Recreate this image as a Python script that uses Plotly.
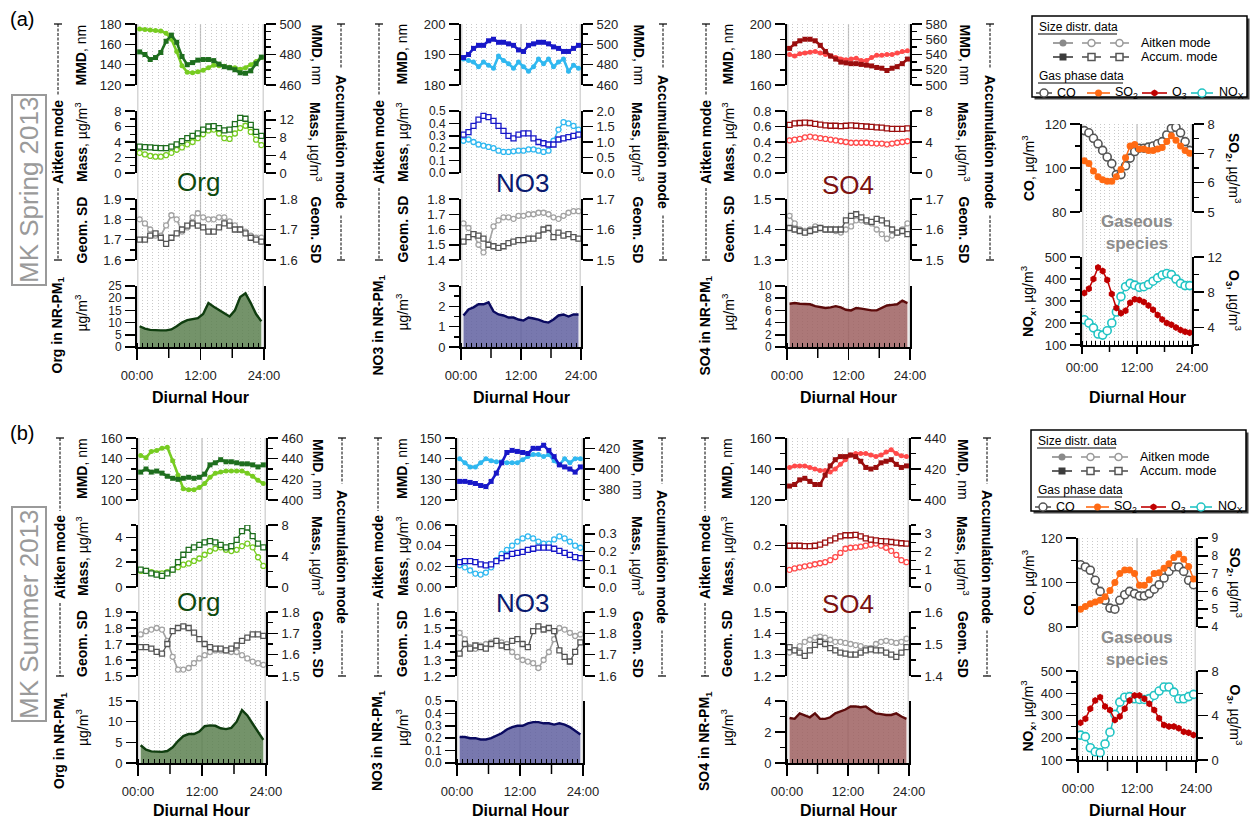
import plotly.graph_objects as go

W, H = 1252, 819
FONT = "Arial, Liberation Sans, sans-serif"

HOURS = [h + 0.5 for h in range(24)]
XTICK_VALS = [0, 12, 24]
XTICK_TEXT = ["00:00", "12:00", "24:00"]
XTICK_LONG_UNLABELLED = [6, 18]

# ------------------------- (a) MK Spring 2013 -------------------------
spr_org_mmd_ait = [175, 174.5, 174, 173.5, 173, 171, 165, 153, 139, 132.5, 132, 133, 134.5, 137, 139.5, 139, 138.5, 137.5, 137, 135.5, 137, 140, 143, 147]
spr_org_mmd_acc = [481.7, 480, 476.7, 478, 481.3, 488.7, 492.7, 488, 478.7, 473.3, 474.7, 476.3, 476.7, 476.7, 476, 473.7, 472, 471.3, 470, 468, 467.7, 469.3, 474, 478.3]
spr_org_mass_ait = [2.6, 2.4, 2.2, 2.1, 2.1, 2.3, 2.6, 3.0, 3.3, 3.7, 4.0, 4.5, 5.0, 5.5, 5.6, 5.1, 4.5, 4.4, 5.1, 5.8, 6.1, 5.3, 4.3, 3.6]
spr_org_mass_acc = [5.95, 5.86, 5.78, 5.69, 5.6, 5.6, 5.95, 6.48, 7.18, 7.88, 8.4, 8.93, 9.8, 10.5, 10.59, 10.15, 9.63, 9.8, 11.03, 12.43, 12.25, 10.85, 9.28, 8.4]
spr_org_sd_ait = [1.80, 1.78, 1.75, 1.72, 1.72, 1.77, 1.82, 1.80, 1.74, 1.76, 1.81, 1.83, 1.81, 1.80, 1.80, 1.81, 1.81, 1.79, 1.77, 1.75, 1.74, 1.72, 1.71, 1.71]
spr_org_sd_acc = [1.667, 1.667, 1.68, 1.687, 1.673, 1.653, 1.673, 1.687, 1.70, 1.713, 1.72, 1.713, 1.707, 1.693, 1.693, 1.707, 1.72, 1.713, 1.70, 1.70, 1.687, 1.673, 1.667, 1.66]
spr_org_pm = [8.5, 7.5, 7.0, 6.8, 6.8, 6.8, 7.2, 8.5, 10.0, 11.0, 11.5, 11.8, 13.5, 18.0, 16.5, 15.0, 13.8, 12.5, 15.0, 20.5, 22.0, 18.0, 13.5, 10.5]

spr_no3_mmd_ait = [188.5, 188, 187.5, 186, 187.5, 186.5, 185.5, 189.5, 188, 187, 185.5, 187.5, 186, 184.5, 186, 188.5, 187, 188.5, 186, 187.5, 188.5, 184.5, 186.5, 185.5]
spr_no3_mmd_acc = [487, 490, 496, 499, 499, 503.5, 505, 502, 502, 500.5, 499, 494.5, 493, 499, 500.5, 502, 502, 500.5, 497.5, 496, 493, 493, 496, 499]
spr_no3_mass_ait = [0.26, 0.27, 0.25, 0.23, 0.22, 0.21, 0.20, 0.18, 0.17, 0.17, 0.175, 0.18, 0.18, 0.19, 0.19, 0.18, 0.17, 0.18, 0.26, 0.35, 0.41, 0.40, 0.38, 0.35]
spr_no3_mass_acc = [1.24, 1.32, 1.52, 1.72, 1.84, 1.80, 1.68, 1.52, 1.36, 1.20, 1.12, 1.24, 1.28, 1.28, 1.12, 1.00, 0.96, 0.92, 0.92, 1.08, 1.12, 1.16, 1.20, 1.24]
spr_no3_sd_ait = [1.64, 1.61, 1.57, 1.50, 1.45, 1.50, 1.62, 1.66, 1.68, 1.68, 1.67, 1.69, 1.69, 1.70, 1.70, 1.71, 1.71, 1.70, 1.68, 1.67, 1.69, 1.71, 1.72, 1.72]
spr_no3_sd_acc = [1.56, 1.575, 1.585, 1.58, 1.57, 1.55, 1.545, 1.54, 1.545, 1.555, 1.56, 1.565, 1.565, 1.57, 1.57, 1.58, 1.60, 1.605, 1.575, 1.59, 1.58, 1.585, 1.575, 1.57]
spr_no3_pm = [1.55, 1.85, 1.95, 2.1, 2.1, 2.2, 1.75, 1.6, 1.55, 1.45, 1.45, 1.35, 1.3, 1.45, 1.4, 1.35, 1.25, 1.2, 1.35, 1.55, 1.6, 1.5, 1.6, 1.6]

spr_so4_mmd_ait = [180, 179, 180.5, 181, 181.5, 182, 181, 180, 179, 178, 177, 176.5, 177, 177.5, 176, 176, 178, 179.5, 179.5, 180, 180, 181, 182, 182.5]
spr_so4_mmd_acc = [548, 554, 558, 560, 560, 558, 552, 544, 538, 534, 530, 529, 528, 528, 527, 526, 525, 523, 522, 519, 522, 524, 528, 534]
spr_so4_mass_ait = [0.42, 0.43, 0.44, 0.46, 0.47, 0.46, 0.45, 0.44, 0.43, 0.42, 0.41, 0.40, 0.39, 0.39, 0.39, 0.39, 0.385, 0.38, 0.38, 0.37, 0.38, 0.39, 0.40, 0.41]
spr_so4_mass_acc = [6.2, 6.4, 6.45, 6.5, 6.45, 6.35, 6.25, 6.15, 6.1, 6.1, 6.05, 6.1, 6.15, 6.1, 6.05, 6.0, 5.95, 5.9, 5.85, 5.75, 5.7, 5.7, 5.7, 5.75]
spr_so4_sd_ait = [1.445, 1.42, 1.40, 1.395, 1.40, 1.41, 1.405, 1.40, 1.40, 1.395, 1.39, 1.40, 1.41, 1.43, 1.43, 1.425, 1.42, 1.40, 1.385, 1.37, 1.38, 1.39, 1.40, 1.42]
spr_so4_sd_acc = [1.605, 1.60, 1.595, 1.59, 1.595, 1.60, 1.605, 1.60, 1.60, 1.60, 1.60, 1.63, 1.645, 1.65, 1.64, 1.63, 1.625, 1.635, 1.63, 1.62, 1.60, 1.59, 1.595, 1.585]
spr_so4_pm = [7.1, 7.2, 7.1, 7.0, 7.0, 6.7, 6.5, 6.4, 6.5, 6.7, 6.5, 6.1, 6.0, 6.4, 6.3, 6.1, 6.0, 6.0, 6.4, 6.8, 6.9, 7.0, 7.6, 7.2]

spr_co = [117, 116, 113.5, 111, 108, 105, 102, 97, 97, 101, 104.5, 107.5, 109, 109, 109.5, 110, 111, 112, 115, 118, 118.5, 116, 112, 108]
spr_so2 = [6.75, 6.65, 6.4, 6.2, 6.1, 6.05, 6.05, 6.2, 6.45, 6.85, 7.25, 7.3, 7.15, 7.15, 7.1, 7.1, 7.15, 7.2, 7.4, 7.6, 7.45, 7.25, 7.1, 7.0]
spr_nox = [215, 200, 178, 150, 145, 165, 200, 250, 320, 365, 380, 372, 362, 365, 375, 390, 405, 418, 425, 420, 400, 380, 370, 370]
spr_o3 = [7.9, 8.4, 9.5, 10.8, 10.4, 9.4, 7.8, 6.2, 5.6, 5.9, 6.8, 7.2, 7.1, 6.9, 6.5, 6.0, 5.4, 4.9, 4.5, 4.3, 4.0, 3.7, 3.5, 3.4]

# ------------------------- (b) MK Summer 2013 -------------------------
sum_org_mmd_ait = [143, 141, 147, 148, 150, 151, 138, 124, 111, 110, 110, 112, 116, 122, 126, 127, 128, 128, 128, 128, 126, 123, 119, 116]
sum_org_mmd_acc = [427, 430, 427, 428, 426, 423, 421, 420, 421, 422, 421, 422, 425, 434, 436, 439, 437, 437, 436, 435, 435, 434, 432, 434]
sum_org_mass_ait = [1.3, 1.3, 1.2, 1.1, 1.1, 1.2, 1.4, 1.6, 1.8, 1.9, 2.1, 2.3, 2.6, 2.9, 3.1, 3.2, 3.0, 2.9, 3.0, 3.3, 3.5, 3.2, 2.4, 1.7]
sum_org_mass_acc = [2.24, 2.08, 1.76, 1.6, 1.44, 1.76, 2.24, 3.2, 4.16, 4.8, 5.12, 5.44, 5.76, 5.92, 5.76, 5.44, 5.12, 5.28, 6.08, 7.2, 7.68, 6.56, 5.6, 5.12]
sum_org_sd_ait = [1.76, 1.78, 1.79, 1.80, 1.79, 1.72, 1.62, 1.54, 1.54, 1.55, 1.58, 1.61, 1.63, 1.65, 1.66, 1.66, 1.66, 1.65, 1.65, 1.63, 1.61, 1.59, 1.58, 1.57]
sum_org_sd_acc = [1.635, 1.635, 1.628, 1.613, 1.605, 1.65, 1.71, 1.725, 1.733, 1.725, 1.703, 1.673, 1.65, 1.635, 1.628, 1.628, 1.62, 1.628, 1.643, 1.665, 1.68, 1.695, 1.695, 1.688]
sum_org_pm = [4.3, 3.2, 2.8, 2.7, 2.7, 2.9, 3.8, 5.3, 6.5, 7.0, 7.0, 7.6, 8.9, 9.1, 9.0, 8.4, 8.2, 8.5, 10.0, 12.8, 11.5, 9.5, 7.5, 5.6]

sum_no3_mmd_ait = [140, 138, 136, 136, 138, 140, 139, 138.5, 138.5, 138, 138, 138, 139.5, 141, 142, 142, 141, 142, 139, 137, 140, 138, 140, 140]
sum_no3_mmd_acc = [388, 388, 387, 386, 384, 383, 388, 396, 406, 416, 418, 417, 416, 415, 420, 420, 423, 418, 412, 404, 402, 400, 397, 402]
sum_no3_mass_ait = [0.021, 0.019, 0.016, 0.013, 0.012, 0.014, 0.019, 0.026, 0.032, 0.036, 0.040, 0.044, 0.047, 0.049, 0.047, 0.044, 0.042, 0.042, 0.046, 0.049, 0.047, 0.044, 0.040, 0.038]
sum_no3_mass_acc = [0.14, 0.146, 0.146, 0.14, 0.128, 0.1225, 0.128, 0.146, 0.163, 0.175, 0.187, 0.1925, 0.198, 0.21, 0.216, 0.222, 0.222, 0.222, 0.216, 0.204, 0.1925, 0.181, 0.169, 0.163]
sum_no3_sd_ait = [1.47, 1.43, 1.38, 1.37, 1.39, 1.40, 1.41, 1.42, 1.41, 1.40, 1.35, 1.32, 1.30, 1.29, 1.28, 1.25, 1.30, 1.35, 1.43, 1.50, 1.49, 1.47, 1.45, 1.46]
sum_no3_sd_acc = [1.705, 1.75, 1.728, 1.743, 1.735, 1.728, 1.75, 1.765, 1.743, 1.735, 1.765, 1.773, 1.75, 1.735, 1.81, 1.833, 1.818, 1.825, 1.81, 1.72, 1.69, 1.668, 1.713, 1.758]
sum_no3_pm = [0.21, 0.21, 0.20, 0.20, 0.19, 0.19, 0.20, 0.22, 0.24, 0.27, 0.29, 0.30, 0.30, 0.32, 0.33, 0.33, 0.32, 0.32, 0.31, 0.32, 0.31, 0.29, 0.26, 0.23]

sum_so4_mmd_ait = [141, 142, 142, 142, 141, 140, 139, 139, 138, 140, 143, 146, 149, 150, 150, 150, 149, 148, 149, 151, 152.5, 150, 148.5, 148]
sum_so4_mmd_acc = [409, 410, 413, 414, 412, 410, 410, 416, 422, 426, 428, 428, 429, 428, 425, 421, 420, 421, 424, 425, 426, 423, 421, 422]
sum_so4_mass_ait = [0.083, 0.090, 0.095, 0.100, 0.105, 0.110, 0.115, 0.120, 0.130, 0.145, 0.165, 0.185, 0.190, 0.192, 0.195, 0.200, 0.205, 0.210, 0.200, 0.190, 0.175, 0.155, 0.130, 0.120]
sum_so4_mass_acc = [2.33, 2.33, 2.33, 2.31, 2.31, 2.33, 2.39, 2.51, 2.63, 2.74, 2.86, 2.92, 2.92, 2.94, 2.86, 2.74, 2.68, 2.63, 2.59, 2.57, 2.54, 2.51, 2.47, 2.45]
sum_so4_sd_ait = [1.31, 1.32, 1.34, 1.36, 1.37, 1.38, 1.385, 1.38, 1.37, 1.36, 1.36, 1.355, 1.35, 1.345, 1.34, 1.33, 1.33, 1.35, 1.36, 1.365, 1.36, 1.355, 1.36, 1.375]
sum_so4_sd_acc = [1.49, 1.48, 1.473, 1.463, 1.48, 1.497, 1.507, 1.50, 1.487, 1.48, 1.473, 1.47, 1.467, 1.467, 1.473, 1.48, 1.483, 1.48, 1.48, 1.473, 1.467, 1.46, 1.473, 1.49]
sum_so4_pm = [2.9, 2.85, 3.2, 3.05, 2.95, 3.2, 2.85, 2.85, 2.95, 3.2, 3.3, 3.45, 3.65, 3.65, 3.6, 3.65, 3.4, 3.2, 3.15, 3.1, 3.1, 3.2, 3.0, 2.85]

sum_co = [108, 107, 105.5, 101, 96, 92, 88.5, 88, 92, 94.5, 96, 95, 94, 94, 95, 97, 99, 102, 105, 107, 107, 105, 101, 99]
sum_so2 = [5.0, 5.15, 5.3, 5.4, 5.5, 5.7, 6.05, 6.5, 7.0, 7.2, 7.2, 7.0, 6.35, 6.35, 6.65, 7.0, 7.05, 7.3, 7.55, 7.9, 8.1, 7.8, 7.4, 6.7]
sum_nox = [212, 205, 155, 137, 133, 172, 225, 305, 360, 382, 385, 375, 372, 372, 376, 390, 410, 428, 428, 405, 375, 375, 385, 395]
sum_o3 = [3.35, 3.7, 4.6, 5.35, 5.65, 4.8, 4.5, 3.6, 3.9, 4.6, 5.35, 5.8, 5.8, 5.5, 5.05, 4.5, 3.75, 3.15, 3.0, 3.0, 2.85, 2.55, 2.45, 2.25]

# ----------------------------------------------------------------------
fig = go.Figure()
L = {}
ann = []
shp = []
cnt = {"x": 0, "y": 0}


def alloc(kind):
    cnt[kind] += 1
    n = cnt[kind]
    name = kind if n == 1 else f"{kind}{n}"
    key = f"{kind}axis" if n == 1 else f"{kind}axis{n}"
    return name, key


def fx(px):
    return px / W


def fy(py):
    return 1 - py / H


def text(px, py, s, size=13, color="black", angle=0, xanchor="center", yanchor="middle", **kw):
    ann.append(dict(x=fx(px), y=fy(py), xref="paper", yref="paper", text=s, showarrow=False,
                    textangle=angle, xanchor=xanchor, yanchor=yanchor,
                    font=dict(family=FONT, size=size, color=color), **kw))


def pline(x0, y0, x1, y1, color="black", width=1.5, dash=None, layer="above"):
    d = dict(type="line", xref="paper", yref="paper", x0=fx(x0), y0=fy(y0), x1=fx(x1), y1=fy(y1),
             line=dict(color=color, width=width), layer=layer)
    if dash:
        d["line"]["dash"] = dash
    shp.append(d)


def yaxis(xname, rng, dtick, minor=None, fmt=None, side="left", top=None, bottom=None,
          overlay=None, mirror=False):
    name, key = alloc("y")
    span = rng[1] - rng[0]
    nlab = int(round(span / dtick)) + 1
    d = dict(range=[rng[0] - span * 1e-6, rng[1] + span * 1e-6], anchor=xname, side=side,
             showline=True, linecolor="black", linewidth=2, mirror=mirror,
             ticks="outside", ticklen=10, tickwidth=1.5, tickcolor="black",
             tickmode="linear", tick0=0, dtick=dtick, ticklabelstandoff=1,
             showgrid=False, zeroline=False, fixedrange=True, automargin=False,
             tickfont=dict(family=FONT, size=12 if nlab > 5 else 13, color="#222"))
    if fmt:
        d["tickformat"] = fmt
    if minor:
        d["minor"] = dict(tickmode="linear", tick0=0, dtick=minor, ticks="outside", ticklen=5,
                          tickwidth=1.5, tickcolor="black", showgrid=False)
    if overlay:
        d["overlaying"] = overlay
    else:
        d["domain"] = [fy(bottom), fy(top)]
    L[key] = d
    return name


def grid_backdrop(xl, xr, top, bottom):
    """Hourly dotted grid spanning the whole column (own hidden axes)."""
    gx, gxk = alloc("x")
    gy, gyk = alloc("y")
    L[gxk] = dict(domain=[fx(xl), fx(xr)], range=[0, 24], anchor=gy, showline=False, ticks="",
                  showticklabels=False, tickmode="linear", tick0=0, dtick=1, showgrid=True,
                  gridcolor="#c9c9c9", griddash="1px,2px", gridwidth=1, zeroline=False,
                  fixedrange=True, automargin=False)
    L[gyk] = dict(domain=[fy(bottom), fy(top)], range=[0, 1], anchor=gx, visible=False,
                  fixedrange=True, automargin=False)
    fig.add_trace(go.Scatter(x=[0.5], y=[0.5], xaxis=gx, yaxis=gy, mode="markers",
                             marker=dict(opacity=0), hoverinfo="skip", showlegend=False))


def xaxis_cfg(key, xname, xl, xr, anchor, axis_y, ticklen=11, standoff=4):
    L[key] = dict(domain=[fx(xl), fx(xr)], range=[0, 24], anchor=anchor,
                  showline=True, linecolor="black", linewidth=2,
                  tickmode="array", tickvals=XTICK_VALS, ticktext=XTICK_TEXT,
                  ticks="outside", ticklen=ticklen, tickwidth=1.5, tickcolor="black",
                  ticklabelstandoff=standoff,
                  minor=dict(tickmode="linear", tick0=0, dtick=1, ticks="inside", ticklen=4,
                             tickwidth=1, tickcolor="black", showgrid=False),
                  showgrid=False, zeroline=False, fixedrange=True, automargin=False,
                  tickfont=dict(family=FONT, size=13, color="#222"))
    # long unlabelled ticks at 06:00 and 18:00
    for xv in XTICK_LONG_UNLABELLED:
        shp.append(dict(type="line", xref=xname, yref="paper", x0=xv, x1=xv,
                        y0=fy(axis_y), y1=fy(axis_y + ticklen),
                        line=dict(color="black", width=1.5), layer="above"))


def vlines(xname, top, bottom):
    for xv, col, wd in [(0, "#d6d6d6", 3), (24, "#d6d6d6", 3), (12, "#bcbcbc", 1.2)]:
        shp.append(dict(type="line", xref=xname, yref="paper", x0=xv, x1=xv, y0=fy(bottom), y1=fy(top),
                        line=dict(color=col, width=wd), layer="below"))


def series(xname, yname, y, color, symbol, size, lw, filled=True):
    if filled:
        mk = dict(symbol=symbol, size=size, color=color, line=dict(color=color, width=0))
    else:
        mk = dict(symbol=symbol, size=size, color="white", line=dict(color=color, width=1.3))
    fig.add_trace(go.Scatter(x=HOURS, y=y, xaxis=xname, yaxis=yname, mode="lines+markers",
                             line=dict(color=color, width=lw), marker=mk,
                             hoverinfo="skip", showlegend=False))


def mode_label(px, top, bottom, label, length, angle):
    mid = (top + bottom) / 2
    text(px, mid, f"<b>{label}</b>", size=14, angle=angle)
    gap = length / 2 + 5
    pline(px, top, px, mid - gap, width=1, dash="3px,1.5px")
    pline(px, mid + gap, px, bottom, width=1, dash="3px,1.5px")
    pline(px - 4, top, px + 4, top, width=1.2)
    pline(px - 4, bottom, px + 4, bottom, width=1.2)


SD_AIT = "#a3a3a3"
SD_ACC = "#555555"


def species_panel(xl, xr, rows, pos, cols, data, axes, label, dh_y):
    (mt, mb), (at, ab), (st, sb), (pt, pb) = rows
    grid_backdrop(xl, xr, mt, pb)
    xname, xkey = alloc("x")
    vlines(xname, mt, pb)
    y1 = yaxis(xname, *axes["mmdL"], top=mt, bottom=mb)
    y1r = yaxis(xname, *axes["mmdR"], side="right", overlay=y1)
    y2 = yaxis(xname, *axes["massL"], top=at, bottom=ab)
    y2r = yaxis(xname, *axes["massR"], side="right", overlay=y2)
    y3 = yaxis(xname, *axes["sdL"], top=st, bottom=sb)
    y3r = yaxis(xname, *axes["sdR"], side="right", overlay=y3)
    y4 = yaxis(xname, *axes["pm"], top=pt, bottom=pb, mirror=True)
    xaxis_cfg(xkey, xname, xl, xr, y4, pb)

    light, dark, fillc, pmline, labc = cols
    series(xname, y1, data["mmd_ait"], light, "circle", 5, 2.6)
    series(xname, y1r, data["mmd_acc"], dark, "square", 5, 2.6)
    series(xname, y2, data["mass_ait"], light, "circle", 5, 1.3, filled=False)
    series(xname, y2r, data["mass_acc"], dark, "square", 5, 1.3, filled=False)
    series(xname, y3, data["sd_ait"], SD_AIT, "circle", 5, 1.6, filled=False)
    series(xname, y3r, data["sd_acc"], SD_ACC, "square", 5, 1.3, filled=False)
    fig.add_trace(go.Scatter(x=HOURS, y=data["pm"], xaxis=xname, yaxis=y4, mode="lines",
                             fill="tozeroy", fillcolor=fillc, line=dict(color=pmline, width=2.4),
                             hoverinfo="skip", showlegend=False))

    lm, lt, rt, rm, lbx, lby = pos
    mode_label(lm, mt, sb, "Aitken mode", 82, -90)
    mode_label(rm, mt, sb, "Accumulation mode", 137, 90)
    text(lt, (mt + mb) / 2, "<b>MMD</b>, nm", size=14, angle=-90)
    text(lt, (at + ab) / 2, "<b>Mass</b>, µg/m<sup>3</sup>", size=14, angle=-90)
    text(lt, (st + sb) / 2, "<b>Geom. SD</b>", size=14, angle=-90)
    text(rt, (mt + mb) / 2, "<b>MMD</b>, nm", size=14, angle=90)
    text(rt, (at + ab) / 2, "<b>Mass</b>, µg/m<sup>3</sup>", size=14, angle=90)
    text(rt, (st + sb) / 2, "<b>Geom. SD</b>", size=14, angle=90)
    text(lm, (pt + pb) / 2 + 9, f"<b>{label} in NR-PM<sub>1</sub></b>", size=14, angle=-90)
    text(lt, (pt + pb) / 2 - 4, "µg/m<sup>3</sup>", size=14, angle=-90)
    text(lbx, lby, label, size=26, color=labc)
    text((xl + xr) / 2, dh_y, "<b>Diurnal Hour</b>", size=16)


def gas_panel(xl, xr, co_rows, nox_rows, axes, data, lt, rt, gs_y, xt_len, xt_off, dh_y):
    (ct, cb), (nt, nb) = co_rows, nox_rows
    grid_backdrop(xl, xr, ct, nb)
    xname, xkey = alloc("x")
    vlines(xname, ct, nb)
    y1 = yaxis(xname, *axes["co"], top=ct, bottom=cb)
    y1r = yaxis(xname, *axes["so2"], side="right", overlay=y1)
    y2 = yaxis(xname, *axes["nox"], top=nt, bottom=nb)
    y2r = yaxis(xname, *axes["o3"], side="right", overlay=y2)
    xaxis_cfg(xkey, xname, xl, xr, y2, nb, ticklen=xt_len, standoff=xt_off)
    fig.add_trace(go.Scatter(x=HOURS, y=data["so2"], xaxis=xname, yaxis=y1r, mode="lines+markers",
                             line=dict(color="#ff6a13", width=1.5),
                             marker=dict(symbol="circle", size=7, color="#ff6a13"),
                             hoverinfo="skip", showlegend=False))
    fig.add_trace(go.Scatter(x=HOURS, y=data["co"], xaxis=xname, yaxis=y1, mode="lines+markers",
                             line=dict(color="#555555", width=1.5),
                             marker=dict(symbol="circle", size=8, color="white", line=dict(color="#555555", width=1.6)),
                             hoverinfo="skip", showlegend=False))
    fig.add_trace(go.Scatter(x=HOURS, y=data["o3"], xaxis=xname, yaxis=y2r, mode="lines+markers",
                             line=dict(color="#c00000", width=1.5),
                             marker=dict(symbol="hexagon", size=7, color="#c00000"),
                             hoverinfo="skip", showlegend=False))
    fig.add_trace(go.Scatter(x=HOURS, y=data["nox"], xaxis=xname, yaxis=y2, mode="lines+markers",
                             line=dict(color="#22c4c4", width=1.5),
                             marker=dict(symbol="circle", size=8, color="white", line=dict(color="#22c4c4", width=1.6)),
                             hoverinfo="skip", showlegend=False))
    text(lt, (ct + cb) / 2, "<b>CO</b>, µg/m<sup>3</sup>", size=14, angle=-90)
    text(rt, (ct + cb) / 2, "<b>SO<sub>2</sub></b>, µg/m<sup>3</sup>", size=14, angle=90)
    text(lt, (nt + nb) / 2, "<b>NO<sub>x</sub></b>, µg/m<sup>3</sup>", size=14, angle=-90)
    text(rt, (nt + nb) / 2, "<b>O<sub>3</sub></b>, µg/m<sup>3</sup>", size=14, angle=90)
    text((xl + xr) / 2, gs_y, "<b>Gaseous<br>species</b>", size=17, color="#8c8c8c")
    text((xl + xr) / 2, dh_y, "<b>Diurnal Hour</b>", size=16)


ORG = ("#77cc22", "#1e6e1e", "rgba(92,128,80,0.85)", "#0f3d0f", "#0e4a0e")
NO3 = ("#30b8f0", "#1818c8", "rgba(96,96,160,0.85)", "#0a0a60", "#0a1a70")
SO4 = ("#ff4a4a", "#9a0e0e", "rgba(158,96,96,0.85)", "#5c0a0a", "#7b1111")

ROWS_A = [(24, 85), (111, 173), (199, 260), (286, 347)]
ROWS_B = [(438, 500), (525, 587), (612, 676), (701, 763)]

# (a) spring
species_panel(137, 264, ROWS_A, (58, 81, 316, 341, 198, 182), ORG,
              dict(mmd_ait=spr_org_mmd_ait, mmd_acc=spr_org_mmd_acc, mass_ait=spr_org_mass_ait,
                   mass_acc=spr_org_mass_acc, sd_ait=spr_org_sd_ait, sd_acc=spr_org_sd_acc, pm=spr_org_pm),
              dict(mmdL=([120, 180], 20, 10), mmdR=([460, 500], 20, 5), massL=([0, 8], 2, 1),
                   massR=([0, 14], 4, 2), sdL=([1.6, 1.9], 0.1, 0.05, ".1f"), sdR=([1.6, 1.8], 0.1, 0.05, ".1f"),
                   pm=([0, 25], 5)), "Org", 397)
species_panel(461, 581, ROWS_A, (379, 402, 638, 663, 522, 183), NO3,
              dict(mmd_ait=spr_no3_mmd_ait, mmd_acc=spr_no3_mmd_acc, mass_ait=spr_no3_mass_ait,
                   mass_acc=spr_no3_mass_acc, sd_ait=spr_no3_sd_ait, sd_acc=spr_no3_sd_acc, pm=spr_no3_pm),
              dict(mmdL=([180, 200], 10, 5), mmdR=([460, 520], 20, 10), massL=([0, 0.5], 0.1, None, ".1f"),
                   massR=([0, 2.0], 0.5, None, ".1f"), sdL=([1.4, 1.8], 0.1, None, ".1f"),
                   sdR=([1.5, 1.7], 0.1, 0.05, ".1f"), pm=([0, 3], 1, 0.5)), "NO3", 397)
species_panel(787, 910, ROWS_A, (706, 728, 964, 990, 848, 185), SO4,
              dict(mmd_ait=spr_so4_mmd_ait, mmd_acc=spr_so4_mmd_acc, mass_ait=spr_so4_mass_ait,
                   mass_acc=spr_so4_mass_acc, sd_ait=spr_so4_sd_ait, sd_acc=spr_so4_sd_acc, pm=spr_so4_pm),
              dict(mmdL=([160, 200], 20, 10), mmdR=([500, 580], 20, 10), massL=([0, 0.8], 0.2, None, ".1f"),
                   massR=([0, 8], 4, 2), sdL=([1.3, 1.5], 0.1, 0.05, ".1f"), sdR=([1.5, 1.7], 0.1, 0.05, ".1f"),
                   pm=([0, 10], 2)), "SO4", 397)
gas_panel(1082, 1192, (124, 212), (257, 345),
          dict(co=([80, 120], 20, 10), so2=([5, 8], 1, 0.5), nox=([100, 500], 100, 50), o3=([2, 12], 4, 2)),
          dict(co=spr_co, so2=spr_so2, nox=spr_nox, o3=spr_o3), 1028, 1234, 232, 7, 2, 397)

# (b) summer
species_panel(138, 266, ROWS_B, (60, 82, 318, 342, 198, 602), ORG,
              dict(mmd_ait=sum_org_mmd_ait, mmd_acc=sum_org_mmd_acc, mass_ait=sum_org_mass_ait,
                   mass_acc=sum_org_mass_acc, sd_ait=sum_org_sd_ait, sd_acc=sum_org_sd_acc, pm=sum_org_pm),
              dict(mmdL=([100, 160], 20, 10), mmdR=([400, 460], 20, 10), massL=([0, 5], 2, 1),
                   massR=([0, 8], 4, 2), sdL=([1.5, 1.9], 0.1, 0.05, ".1f"), sdR=([1.5, 1.8], 0.1, 0.05, ".1f"),
                   pm=([0, 15], 5)), "Org", 810)
species_panel(457, 583, ROWS_B, (378, 402, 638, 662, 522, 603), NO3,
              dict(mmd_ait=sum_no3_mmd_ait, mmd_acc=sum_no3_mmd_acc, mass_ait=sum_no3_mass_ait,
                   mass_acc=sum_no3_mass_acc, sd_ait=sum_no3_sd_ait, sd_acc=sum_no3_sd_acc, pm=sum_no3_pm),
              dict(mmdL=([120, 150], 10, 5), mmdR=([370, 430], 20, 10), massL=([0, 0.06], 0.02, 0.01, ".2f"),
                   massR=([0, 0.35], 0.1, 0.05, ".1f"), sdL=([1.2, 1.6], 0.1, 0.05, ".1f"),
                   sdR=([1.6, 1.9], 0.1, 0.05, ".1f"), pm=([0, 0.5], 0.1, None, ".1f")), "NO3", 810)
species_panel(787, 909, ROWS_B, (705, 727, 963, 987, 848, 604), SO4,
              dict(mmd_ait=sum_so4_mmd_ait, mmd_acc=sum_so4_mmd_acc, mass_ait=sum_so4_mass_ait,
                   mass_acc=sum_so4_mass_acc, sd_ait=sum_so4_sd_ait, sd_acc=sum_so4_sd_acc, pm=sum_so4_pm),
              dict(mmdL=([120, 160], 20, 10), mmdR=([400, 440], 20, 10), massL=([0, 0.3], 0.2, 0.1, ".1f"),
                   massR=([0, 3.5], 1, 0.5), sdL=([1.2, 1.5], 0.1, 0.05, ".1f"),
                   sdR=([1.4, 1.6], 0.1, 0.05, ".1f"), pm=([0, 4], 2, 1)), "SO4", 810)
gas_panel(1078, 1196, (538, 627), (671, 760),
          dict(co=([80, 120], 20, 10), so2=([4, 9], 1, 0.5), nox=([100, 500], 100, 50), o3=([0, 8], 4, 2)),
          dict(co=sum_co, so2=sum_so2, nox=sum_nox, o3=sum_o3), 1028, 1235, 648, 11, 4, 810)

# ---- panel tags and season boxes ----
text(22, 19, "(a)", size=20)
text(22, 433, "(b)", size=20)
text(29, 190, "MK Spring 2013", size=26, color="#9a9a9a", angle=-90,
     bordercolor="#9a9a9a", borderwidth=2, borderpad=1)
text(29, 614, "MK Summer 2013", size=26, color="#9a9a9a", angle=-90,
     bordercolor="#9a9a9a", borderwidth=2, borderpad=1)

# ---- custom legend boxes (pixel-space overlay axis) ----
lxn, lxk = alloc("x")
lyn, lyk = alloc("y")
L[lxk] = dict(domain=[0, 1], range=[0, W], anchor=lyn, visible=False, fixedrange=True, automargin=False)
L[lyk] = dict(domain=[0, 1], range=[H, 0], anchor=lxn, visible=False, fixedrange=True, automargin=False)


def glyph(x0, x1, y, color, symbol, size, filled, lw=1.6):
    fig.add_trace(go.Scatter(x=[x0, x1], y=[y, y], xaxis=lxn, yaxis=lyn, mode="lines",
                             line=dict(color=color, width=lw), hoverinfo="skip", showlegend=False))
    mk = dict(symbol=symbol, size=size, color=color) if filled else \
        dict(symbol=symbol, size=size, color="white", line=dict(color=color, width=1.5))
    fig.add_trace(go.Scatter(x=[(x0 + x1) / 2], y=[y], xaxis=lxn, yaxis=lyn, mode="markers",
                             marker=mk, hoverinfo="skip", showlegend=False))


def legend_box(dx, dy):
    x0, y0, x1, y1 = 1032 + dx, 16 + dy, 1247 + dx, 97 + dy
    shp.append(dict(type="rect", xref="paper", yref="paper", x0=fx(x0 + 2.5), y0=fy(y1 + 2.5),
                    x1=fx(x1 + 2.5), y1=fy(y0 + 2.5), fillcolor="#444", line=dict(width=0), layer="below"))
    shp.append(dict(type="rect", xref="paper", yref="paper", x0=fx(x0), y0=fy(y1), x1=fx(x1), y1=fy(y0),
                    fillcolor="white", line=dict(color="black", width=1.5), layer="below"))
    text(1037 + dx, 27 + dy, "Size distr. data", size=12, xanchor="left")
    pline(1038 + dx, 34 + dy, 1117 + dx, 34 + dy, width=1)
    glyph(1053 + dx, 1073 + dx, 43 + dy, "#8a8a8a", "circle", 7, True)
    glyph(1082 + dx, 1101 + dx, 43 + dy, "#9a9a9a", "circle", 7, False)
    glyph(1110 + dx, 1129 + dx, 43 + dy, "#9a9a9a", "circle", 7, False)
    text(1139 + dx, 43 + dy, "Aitken mode", size=12.5, xanchor="left")
    glyph(1053 + dx, 1073 + dx, 57 + dy, "#3c3c3c", "square", 7, True)
    glyph(1082 + dx, 1101 + dx, 57 + dy, "#555555", "square", 7, False)
    glyph(1110 + dx, 1129 + dx, 57 + dy, "#555555", "square", 7, False)
    text(1139 + dx, 57 + dy, "Accum. mode", size=12.5, xanchor="left")
    text(1037 + dx, 76 + dy, "Gas phase data", size=12, xanchor="left")
    pline(1038 + dx, 83 + dy, 1123 + dx, 83 + dy, width=1)
    glyph(1036 + dx, 1052 + dx, 93 + dy, "#555555", "circle", 8, False)
    text(1055 + dx, 93 + dy, "CO", size=12.5, xanchor="left")
    glyph(1087 + dx, 1110 + dx, 93 + dy, "#ff6a13", "circle", 7, True)
    text(1113 + dx, 93 + dy, "SO<sub>2</sub>", size=12.5, xanchor="left")
    glyph(1142 + dx, 1167 + dx, 93 + dy, "#c00000", "hexagon", 7, True)
    text(1170 + dx, 93 + dy, "O<sub>3</sub>", size=12.5, xanchor="left")
    glyph(1191 + dx, 1213 + dx, 93 + dy, "#22c4c4", "circle", 8, False)
    text(1217 + dx, 93 + dy, "NO<sub>X</sub>", size=12.5, xanchor="left")


legend_box(0, 0)
legend_box(-1, 414)

L.update(dict(template="none", width=W, height=H, autosize=False,
              margin=dict(l=0, r=0, t=0, b=0, pad=0, autoexpand=False),
              paper_bgcolor="white", plot_bgcolor="rgba(0,0,0,0)", showlegend=False,
              font=dict(family=FONT, size=13, color="black"),
              annotations=ann, shapes=shp))
fig.update_layout(**L)
fig.write_html("out.html", config=dict(displayModeBar=False, staticPlot=True),
               post_script="document.body.style.margin='0';document.body.style.padding='0';document.body.style.overflow='hidden';")
